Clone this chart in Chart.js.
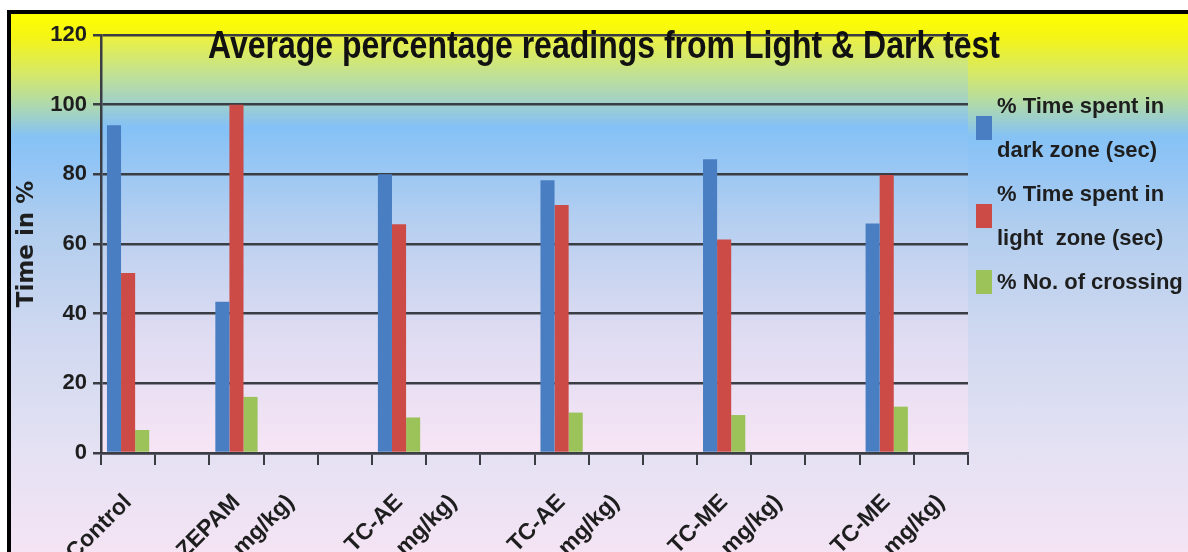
<!DOCTYPE html>
<html>
<head>
<meta charset="utf-8">
<script src="https://cdn.jsdelivr.net/npm/chart.js@4"></script>
<style>
  html, body { margin: 0; padding: 0; background: #fff; overflow: hidden; }
  #frame {
    position: absolute; left: 7px; top: 10px;
    width: 1181px; height: 640px;
    border-top: 4px solid #000; border-left: 4px solid #000;
    background: linear-gradient(to bottom,
      #ffff00 0px, #f4f418 24px, #d8e964 58px, #b2dba6 88px,
      #86c2f4 122px, #8fc4f6 145px, #b0cdee 210px,
      #cfd8f0 320px, #e3e1f3 430px, #f4e4f4 538px);
  }
  #legend {
    position: absolute; left: 965px; top: 70px;
    font: bold 22px "Liberation Sans", Arial, sans-serif;
    line-height: 44px; color: #1e1e1e;
  }
  .item { display: flex; align-items: center; }
  .swatch { width: 16px; height: 24px; margin-right: 5px; flex: none; }
</style>
</head>
<body>
<div id="frame">
  <canvas id="chart" width="1177" height="620"></canvas>
  <div id="legend"></div>
</div>
<script>
// Data
const categories = ['Control', '', 'DIAZEPAM', '(2 mg/kg)', '', 'TC-AE', '(200 mg/kg)', '',
  'TC-AE', '(400 mg/kg)', '', 'TC-ME', '(200 mg/kg)', '', 'TC-ME', '(400 mg/kg)'];
const darkZone  = [94.1, null, 43.4, null, null, 80.0, null, null, 78.3, null, null, 84.3, null, null, 65.9, null];
const lightZone = [51.7, null, 100,  null, null, 65.7, null, null, 71.2, null, null, 61.3, null, null, 79.8, null];
const crossing  = [6.6,  null, 16.1, null, null, 10.2, null, null, 11.6, null, null, 10.9, null, null, 13.3, null];
const yTicks = [0, 20, 40, 60, 80, 100, 120];

const chartTitle = 'Average percentage readings from Light & Dark test';
const seriesNames = [['% Time spent in', 'dark zone (sec)'], ['% Time spent in', 'light  zone (sec)'], ['% No. of crossing']];
const seriesColors = ['#4a7ec2', '#cc4b46', '#9bc35a'];
const gridColor = '#3a3d44';

// plot area gets its own gradient
const plotBg = {
  id: 'plotBg',
  beforeDraw(chart) {
    const { ctx, chartArea: a } = chart;
    const g = ctx.createLinearGradient(0, a.top, 0, a.bottom);
    g.addColorStop(0, '#eef23c');
    g.addColorStop(0.1, '#bfe09a');
    g.addColorStop(0.22, '#84c1f6');
    g.addColorStop(0.45, '#b6cff0');
    g.addColorStop(0.72, '#dfdcf2');
    g.addColorStop(1, '#f7e5f5');
    ctx.save();
    ctx.fillStyle = g;
    ctx.fillRect(a.left, a.top, a.right - a.left, a.bottom - a.top);
    ctx.restore();
  }
};

// title sits over the top of the plot, condensed like the original
const overlayTitle = {
  id: 'overlayTitle',
  afterDraw(chart) {
    const { ctx } = chart;
    ctx.save();
    ctx.font = 'bold 38px "Liberation Sans", Arial, sans-serif';
    ctx.fillStyle = '#111';
    ctx.textAlign = 'center';
    ctx.textBaseline = 'alphabetic';
    ctx.fillText(chartTitle, 593, 44, 792);
    ctx.restore();
  }
};

const ctx = document.getElementById('chart').getContext('2d');
new Chart(ctx, {
  type: 'bar',
  data: {
    labels: categories,
    datasets: [
      { label: seriesNames[0].join(' '), data: darkZone, backgroundColor: seriesColors[0] },
      { label: seriesNames[1].join(' '), data: lightZone, backgroundColor: seriesColors[1] },
      { label: seriesNames[2].join(' '), data: crossing, backgroundColor: seriesColors[2] }
    ]
  },
  options: {
    responsive: false,
    animation: false,
    devicePixelRatio: 1,
    layout: { padding: { left: 0, right: 220, top: 21, bottom: 0 } },
    datasets: { bar: { categoryPercentage: 0.78, barPercentage: 1.0, skipNull: false } },
    plugins: {
      legend: { display: false },
      tooltip: { enabled: false },
      title: { display: false }
    },
    scales: {
      x: {
        grid: { drawOnChartArea: false, drawTicks: true, tickLength: 12, color: gridColor, lineWidth: 2 },
        border: { color: gridColor, width: 2.5 },
        ticks: {
          autoSkip: false, maxRotation: 45, minRotation: 45, padding: 24,
          color: '#1e1e1e',
          font: { family: '"Liberation Sans", Arial, sans-serif', size: 23, weight: 'bold' }
        },
        afterFit(scale) { scale.height = 181; }
      },
      y: {
        min: 0, max: 120,
        afterBuildTicks(scale) { scale.ticks = yTicks.map(v => ({ value: v })); },
        grid: { color: gridColor, lineWidth: 2.5, tickLength: 8 },
        border: { color: gridColor, width: 2.5 },
        ticks: {
          padding: 6, color: '#1e1e1e',
          font: { family: '"Liberation Sans", Arial, sans-serif', size: 22, weight: 'bold' }
        },
        title: {
          display: true, text: 'Time in %', color: '#1e1e1e', padding: { top: 5, bottom: 0 },
          font: { family: '"DejaVu Sans", sans-serif', size: 23, weight: 'bold', lineHeight: 1 }
        },
        afterFit(scale) { scale.width = 90; }
      }
    }
  },
  plugins: [plotBg, overlayTitle]
});

// HTML legend (the reference wraps labels onto two lines)
const legend = document.getElementById('legend');
seriesNames.forEach((lines, i) => {
  legend.innerHTML += `<div class="item"><div class="swatch" style="background:${seriesColors[i]}"></div>` +
    `<div>${lines.map(l => l.replace(/ {2}/g, ' &nbsp;')).join('<br>')}</div></div>`;
});
</script>
</body>
</html>
